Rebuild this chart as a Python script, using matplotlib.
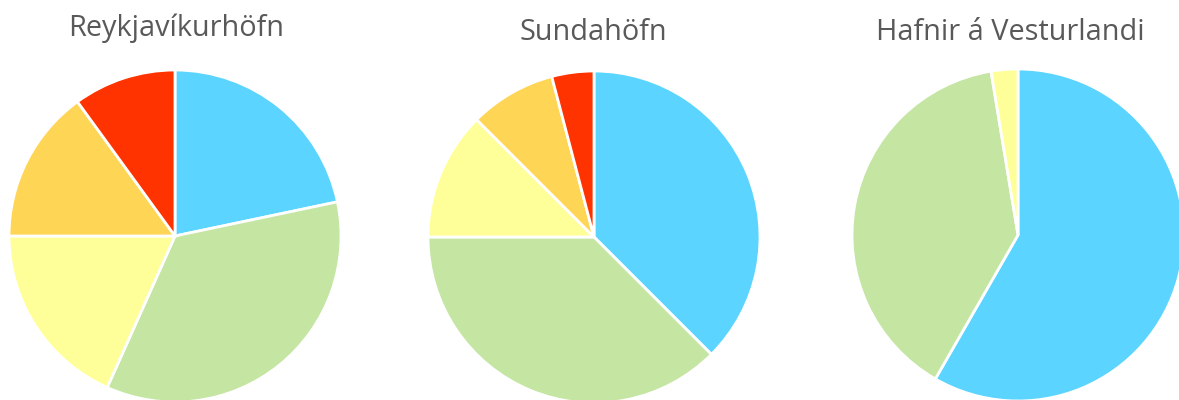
import matplotlib.pyplot as plt

# share of each category, clockwise from 12 o'clock
reykjavik = [21.7, 35.0, 18.3, 15.0, 10.0]
sundahofn = [37.5, 37.5, 12.5, 8.4, 4.1]
vesturland = [58.3, 39.1, 2.6]

titles = ['Reykjavíkurhöfn', 'Sundahöfn', 'Hafnir á Vesturlandi']
colors5 = ['#5BD4FF', '#C5E5A3', '#FFFF99', '#FFD556', '#FF3300']
colors3 = ['#5BD4FF', '#C5E5A3', '#FFFF99']

W, H = 1179, 400
fig = plt.figure(figsize=(W / 100, H / 100), dpi=100)
ax = fig.add_axes([0, 0, 1, 1])

pies = [
    (reykjavik, colors5, (175, H - 236), 166, (176, 28)),
    (sundahofn, colors5, (594, H - 237), 166, (593, 32)),
    (vesturland, colors3, (1018, H - 235), 166, (1010, 32)),
]

for (vals, cols, center, r, tpos), title in zip(pies, titles):
    ax.pie(vals, colors=cols, startangle=90, counterclock=False,
           center=center, radius=r,
           wedgeprops=dict(edgecolor='white', linewidth=2))
    ax.text(tpos[0], H - tpos[1], title, ha='center', va='center',
            fontsize=20.8, color='#595959', family='Open Sans')

ax.set_xlim(0, W)
ax.set_ylim(0, H)
ax.set_aspect('equal')
ax.axis('off')

fig.savefig('out.png', dpi=100)
